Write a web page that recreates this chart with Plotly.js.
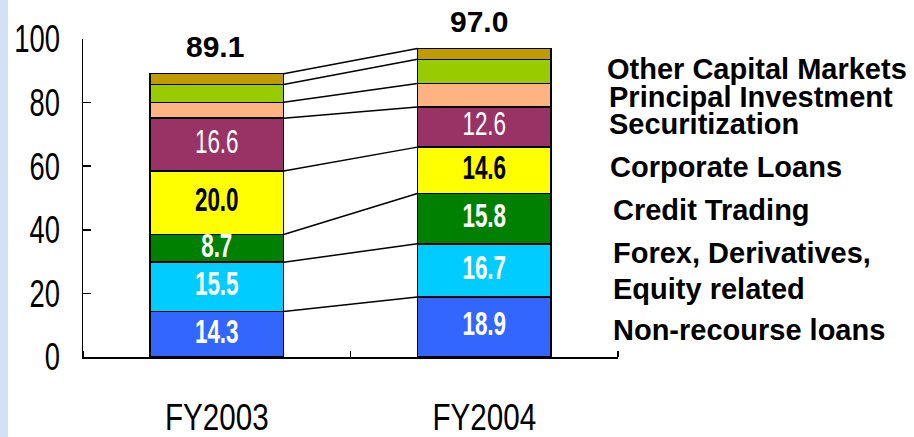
<!DOCTYPE html>
<html>
<head>
<meta charset="utf-8">
<script src="https://cdn.plot.ly/plotly-3.0.1.min.js"></script>
<style>
html,body{margin:0;padding:0;}
body{background:linear-gradient(to right,#D3E1F7 0px,#D3E1F7 8px,#ffffff 8px,#ffffff 100%);}
#chart{width:914px;height:437px;}
</style>
</head>
<body>
<div id="chart"></div>
<script>
// ---- data ----
const categories = ['FY2003', 'FY2004'];
const nonRecourseLoans = [14.3, 18.9];
const forexEquity = [15.5, 16.7];
const creditTrading = [8.7, 15.8];
const corporateLoans = [20.0, 14.6];
const securitization = [16.6, 12.6];
const principalInvestment = [5.0, 7.4];
const otherCapitalMarkets = [5.6, 7.6];
const others = [3.4, 3.4];
const totals = [89.1, 97.0];
const seriesNames = ['Non-recourse loans', 'Forex, Derivatives, Equity related', 'Credit Trading',
  'Corporate Loans', 'Securitization', 'Principal Investment', 'Other Capital Markets', 'Others'];
const rightLabels = ['Other Capital Markets', 'Principal Investment', 'Securitization', 'Corporate Loans',
  'Credit Trading', 'Forex, Derivatives,', 'Equity related', 'Non-recourse loans'];
const rightLabelY = [90.7, 81.8, 73.2, 59.9, 46.1, 32.6, 21.3, 8.4];
const yTicks = [0, 20, 40, 60, 80, 100];

// ---- styles ----
const SANS = '"Liberation Sans", Arial, sans-serif';
const series = [nonRecourseLoans, forexEquity, creditTrading, corporateLoans, securitization,
  principalInvestment, otherCapitalMarkets, others];
const colors = ['#3366FF', '#00CCFF', '#008000', '#FFFF00', '#993366', '#FFB380', '#99CC00', '#BF9A00'];
const labelStyle = [
  {color: '#ffffff', bold: true}, {color: '#ffffff', bold: true}, {color: '#ffffff', bold: true},
  {color: '#000000', bold: true}, {color: '#ffffff', bold: false}, null, null, null];
const xs = categories.map((c, i) => i);
const barWidth = 0.5;

const traces = [];
series.forEach((vals, s) => {
  traces.push({
    type: 'bar', x: xs, y: vals, name: seriesNames[s], width: barWidth,
    marker: {color: colors[s], line: {color: '#000000', width: 1.5}},
    hoverinfo: 'name+y', showlegend: false
  });
});
const cum = [];
let run = xs.map(() => 0);
series.forEach(vals => {
  run = run.map((r, i) => r + vals[i]);
  cum.push(run.slice());
});
cum.forEach(tops => {
  traces.push({
    type: 'scatter', mode: 'lines', x: [xs[0] + barWidth / 2, xs[1] - barWidth / 2], y: tops,
    line: {color: '#000000', width: 1.5}, hoverinfo: 'skip', showlegend: false
  });
});
series.forEach((vals, s) => {
  const st = labelStyle[s];
  if (!st) return;
  const mids = vals.map((v, i) => cum[s][i] - v / 2);
  traces.push({
    type: 'scatter', mode: 'text', x: xs, y: mids,
    text: vals.map(v => v.toFixed(1)),
    textposition: 'middle center',
    textfont: {family: SANS, size: 33, color: st.color, weight: st.bold ? 'bold' : 'normal'},
    hoverinfo: 'skip', showlegend: false, cliponaxis: false
  });
});

const annotations = [];
const totalShift = [-2, -5];
totals.forEach((t, i) => {
  annotations.push({
    x: xs[i], y: t, xref: 'x', yref: 'y', text: '<b>' + t.toFixed(1) + '</b>',
    showarrow: false, yanchor: 'bottom', yshift: 9, xshift: totalShift[i],
    font: {family: SANS, size: 30, color: '#000000'}
  });
});
const rightX = [0.975, 0.979, 0.979, 0.981, 0.986, 0.986, 0.986, 0.986];
rightLabels.forEach((lab, k) => {
  annotations.push({
    x: rightX[k], y: rightLabelY[k], xref: 'paper', yref: 'y',
    text: '<b>' + lab + '</b>', showarrow: false, xanchor: 'left', yanchor: 'middle',
    font: {family: SANS, size: 29, color: '#000000'}
  });
});

const layout = {
  width: 914, height: 437,
  margin: {l: 83, r: 296, t: 39, b: 80},
  paper_bgcolor: 'rgba(0,0,0,0)', plot_bgcolor: 'rgba(0,0,0,0)',
  barmode: 'stack', showlegend: false,
  xaxis: {
    range: [-0.5, 1.5], tickmode: 'array', tickvals: xs, ticktext: categories,
    ticks: '', showgrid: false, zeroline: false, showline: true, linecolor: '#000000', linewidth: 1.5,
    tickfont: {family: SANS, size: 37, color: '#000000'}, ticklabelstandoff: 27,
    minor: {tickmode: 'array', tickvals: [-0.5, 0.5, 1.5], ticks: 'inside', ticklen: 6, tickwidth: 1.5, tickcolor: '#000000', showgrid: false}
  },
  yaxis: {
    range: [0, 100], tickmode: 'array', tickvals: yTicks, ticks: 'inside', ticklen: 8, tickwidth: 1.5,
    tickcolor: '#000000', showgrid: false, zeroline: false, showline: true, linecolor: '#000000', linewidth: 1.5,
    tickfont: {family: SANS, size: 38, color: '#000000'}, ticklabelstandoff: 14
  },
  annotations: annotations
};

// horizontal squeeze per text group, to imitate the narrow typeface of the original
const squeezeGroups = [
  ['#chart .xtick text', 0.80],
  ['#chart .ytick text', 0.72],
  ['#chart .textpoint text', 0.68]
];
function squeeze() {
  squeezeGroups.forEach(([sel, ratio]) => {
    document.querySelectorAll(sel).forEach(el => {
      el.removeAttribute('textLength');
      const w = el.getComputedTextLength();
      if (w > 0) {
        el.setAttribute('textLength', (w * ratio).toFixed(1));
        el.setAttribute('lengthAdjust', 'spacingAndGlyphs');
      }
    });
  });
}

Plotly.newPlot('chart', traces, layout, {displayModeBar: false, staticPlot: true}).then(squeeze);
</script>
</body>
</html>
